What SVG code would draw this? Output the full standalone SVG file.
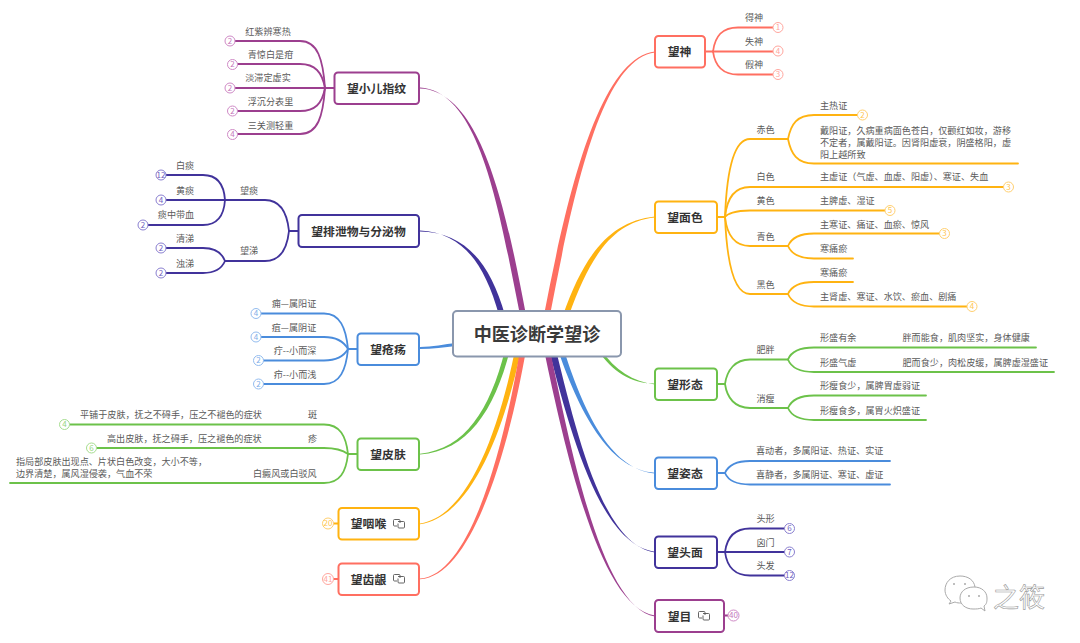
<svg xmlns="http://www.w3.org/2000/svg" width="1080" height="643" viewBox="0 0 1080 643">
<style>
text{font-family:"Noto Sans CJK SC","Noto Sans",sans-serif;dominant-baseline:central;transform:translateY(-.7px)}
.t{font-size:9.1px;fill:#5a5a5a}
.m{text-anchor:middle}
.h{font-size:11.8px;font-weight:700;fill:#333;text-anchor:middle}
.n{font-size:8px;text-anchor:middle}
.box{fill:#fff;stroke-width:2}
.c{fill:none;stroke-width:1.8;stroke-linecap:round}
.ic{fill:none;stroke:#555;stroke-width:.9}
.red{stroke:#ff6f61}.yel{stroke:#ffb311}.grn{stroke:#6cc24a}.blu{stroke:#4a8cdc}.dkb{stroke:#41339b}.pur{stroke:#9c3f8f}
.lr{stroke:#ffa69e;fill:#fff}.ly{stroke:#ffd070;fill:#fff}.lg{stroke:#a6dd90;fill:#fff}.lb{stroke:#93bcef;fill:#fff}.ld{stroke:#8a7fd0;fill:#fff}.lp{stroke:#cf8ac6;fill:#fff}
.nr{fill:#ffa69e}.ny{fill:#ffc650}.ng{fill:#96d47c}.nb{fill:#7eaee8}.nd{fill:#6f62c0}.np{fill:#c577bb}
</style>
<defs>
<g id="icon"><path class="ic" d="M4 7H1.500Q.5 7 .5 6V1.500Q.5.5 1.500.5H6Q7 .5 7 1.500V4"/><path class="ic" d="M5 2.500H10.500Q11.500 2.500 11.500 3.500V8Q11.500 9 10.500 9H6Q5 9 5 8V4.500"/></g>
</defs>

<g id="connectors">
<path fill="#41339b" d="M420 230.500C462 233 484 262 499 315L505 315C490 262 464 232 420 231.500Z"/>
<path fill="#9c3f8f" d="M420 87.500C480 91 499 210 520 315L526 315C506 210 482 91 420 88.500Z"/>
<path fill="#4a8cdc" d="M420 347C432 347 445 344 456 343L456 346C445 347 432 349 420 349Z"/>
<path fill="#6cc24a" d="M420 453.700C465 449 490 410 505 350L510 350C494 412 467 451 420 454.500Z"/>
<path fill="#ffb311" d="M420 523.500C470 516 500 425 515 350L521 350C505 427 472 517 420 524.300Z"/>
<path fill="#ff6f61" d="M420 578.500C472 575 505 440 520 350L526 350C510 442 474 576 420 579.300Z"/>
<path fill="#ff6f61" d="M655 51.500C600 58 568 190 544 315L550 315C574 190 602 59 655 52.500Z"/>
<path fill="#ffb311" d="M655 216.500C610 221 584 255 563 315L569 315C590 257 612 222 655 217.500Z"/>
<path fill="#6cc24a" d="M655 383.500C632 384 612 372 598 350L601 350C615 370 633 382 655 384.500Z"/>
<path fill="#4a8cdc" d="M655 472.700C612 470 582 420 558 350L564 350C586 420 614 470 655 473.500Z"/>
<path fill="#41339b" d="M655 551.700C602 545 572 440 549 350L556 350C578 440 604 545 655 552.500Z"/>
<path fill="#9c3f8f" d="M655 615.500C600 608 565 450 544 350L550 350C571 450 602 608 655 616.500Z"/>
<g class="c pur">
<path d="M334 88H325"/>
<path d="M325 88C323 60 318 41 300 41H235"/>
<path d="M325 88C322 72 315 64 300 64H237"/>
<path d="M325 88H235"/>
<path d="M325 88C322 104 315 111 300 111H237"/>
<path d="M325 88C323 116 318 134 300 134H237"/>
</g>
<g class="c dkb">
<path d="M298 231H289"/>
<path d="M289 231C287 212 280 200 265 200H166"/>
<path d="M289 231C287 250 280 261 265 261H225"/>
<path d="M225 200C224 185 218 175 203 175H166"/>
<path d="M225 200C224 215 218 225 203 225H148"/>
<path d="M225 261C222 253 215 248 203 248H166"/>
<path d="M225 261C222 268 215 273 203 273H166"/>
</g>
<g class="c blu">
<path d="M357 349H348"/>
<path d="M348 349C346 328 340 313.500 324 313.500H261"/>
<path d="M348 349C344 342 336 337 324 337H261"/>
<path d="M348 349C344 356 336 360.500 324 360.500H263"/>
<path d="M348 349C346 370 340 384 324 384H263"/>
</g>
<g class="c grn">
<path d="M357 454H348"/>
<path d="M348 454C346 436 340 424.500 324 424.500H70"/>
<path d="M348 454C344 451 336 448 324 448H97"/>
<path d="M348 454C346 472 340 483 324 483H10"/>
</g>
<path class="c yel" d="M338 523.500H333"/>
<path class="c red" d="M338 579H333"/>
<g class="c red">
<path d="M705 51.500H713"/>
<path d="M713 51.500C715 36 722 27.500 738 27.500H773"/>
<path d="M713 51.500H773"/>
<path d="M713 51.500C715 66 722 74.500 738 74.500H773"/>
</g>
<g class="c yel">
<path d="M717 217H725"/>
<path d="M725 217C727 165 735 139 750 139H788"/>
<path d="M725 217C727 197 735 187 750 187H1003"/>
<path d="M725 217C727 214 735 210.500 750 210.500H885"/>
<path d="M725 217C727 235 735 246 750 246H788"/>
<path d="M725 217C727 265 735 294 750 294H788"/>
<path d="M788 139C791 124 797 115 814 115H857"/>
<path d="M788 139C791 154 797 163.500 814 163.500H1018"/>
<path d="M788 246C791 239 799 233.500 814 233.500H939"/>
<path d="M788 246C791 253 799 258.500 814 258.500H853"/>
<path d="M788 294C791 287 799 282 814 282H853"/>
<path d="M788 294C791 301 799 306.500 814 306.500H967"/>
</g>
<g class="c grn">
<path d="M717 384H725"/>
<path d="M725 384C727 370 735 359.500 750 359.500H788"/>
<path d="M725 384C727 398 735 408 750 408H788"/>
<path d="M788 359.500C791 352 799 347.500 814 347.500H1036"/>
<path d="M788 359.500C791 367 799 372 814 372H1054"/>
<path d="M788 408C791 401 799 395.500 814 395.500H926"/>
<path d="M788 408C791 415 799 420 814 420H926"/>
</g>
<g class="c blu">
<path d="M717 473H725"/>
<path d="M725 473C728 466 735 461 750 461H890"/>
<path d="M725 473C728 480 735 484.500 750 484.500H890"/>
</g>
<g class="c dkb">
<path d="M717 552H725"/>
<path d="M725 552C727 537 735 528.500 750 528.500H784"/>
<path d="M725 552H784"/>
<path d="M725 552C727 567 735 575.500 750 575.500H784"/>
</g>
<path class="c pur" d="M724 615.500H729"/>
</g>

<g id="root"><rect x="453" y="311" width="168" height="45.500" rx="4" fill="#fff" stroke="#8a97ad" stroke-width="2"/><text x="537" y="333.500" text-anchor="middle" font-size="18.100" font-weight="700" fill="#3a3a3a">中医诊断学望诊</text></g>

<g id="n-xiaoer"><rect class="box pur" x="334.500" y="72.500" width="84.500" height="31.500" rx="3.500"/><text class="h" x="376.500" y="88">望小儿指纹</text></g>
<g id="n-paixie"><rect class="box dkb" x="298.500" y="215" width="120.500" height="32" rx="3.500"/><text class="h" x="358.500" y="231">望排泄物与分泌物</text></g>
<g id="n-chuang"><rect class="box blu" x="357.500" y="333.500" width="61.500" height="31.500" rx="3.500"/><text class="h" x="388" y="349">望疮疡</text></g>
<g id="n-pifu"><rect class="box grn" x="357.500" y="438.500" width="61.500" height="31.500" rx="3.500"/><text class="h" x="388" y="454">望皮肤</text></g>
<g id="n-yanhou"><rect class="box yel" x="338.500" y="508" width="80.500" height="31.500" rx="3.500"/><text class="h" x="368.500" y="523.500">望咽喉</text><use href="#icon" x="393" y="519"/></g>
<g id="n-chiyin"><rect class="box red" x="338.500" y="563.500" width="80.500" height="31.500" rx="3.500"/><text class="h" x="368.500" y="579">望齿龈</text><use href="#icon" x="393" y="574"/></g>
<g id="n-shen"><rect class="box red" x="655" y="36" width="50" height="31.500" rx="3.500"/><text class="h" x="679.500" y="51.500">望神</text></g>
<g id="n-mianse"><rect class="box yel" x="655" y="201.500" width="62" height="31.500" rx="3.500"/><text class="h" x="685" y="217">望面色</text></g>
<g id="n-xingtai"><rect class="box grn" x="655" y="368.500" width="62" height="31.500" rx="3.500"/><text class="h" x="685" y="384">望形态</text></g>
<g id="n-zitai"><rect class="box blu" x="655" y="457.500" width="62" height="31.500" rx="3.500"/><text class="h" x="685" y="473">望姿态</text></g>
<g id="n-toumian"><rect class="box dkb" x="655" y="536.500" width="62" height="31.500" rx="3.500"/><text class="h" x="685" y="552">望头面</text></g>
<g id="n-mu"><rect class="box pur" x="655" y="600" width="69" height="32" rx="3.500"/><text class="h" x="679.500" y="616">望目</text><use href="#icon" x="698" y="611"/></g>

<g id="left-leaves">
<g id="l1"><text class="t m" x="268" y="31.500">红紫辨寒热</text><circle class="lp" cx="230" cy="41" r="5"/><text class="n np" x="230" y="41">2</text></g>
<g id="l2"><text class="t m" x="270.500" y="55">青惊白是疳</text><circle class="lp" cx="232.500" cy="64.500" r="5"/><text class="n np" x="232.500" y="64.500">2</text></g>
<g id="l3"><text class="t m" x="268" y="78">淡滞定虚实</text><circle class="lp" cx="230" cy="88" r="5"/><text class="n np" x="230" y="88">2</text></g>
<g id="l4"><text class="t m" x="270.500" y="102">浮沉分表里</text><circle class="lp" cx="232.500" cy="111" r="5"/><text class="n np" x="232.500" y="111">2</text></g>
<g id="l5"><text class="t m" x="270.500" y="125.500">三关测轻重</text><circle class="lp" cx="232.500" cy="134.500" r="5"/><text class="n np" x="232.500" y="134.500">4</text></g>
<g id="l6"><text class="t m" x="249" y="190.500">望痰</text></g>
<g id="l7"><text class="t m" x="249" y="251">望涕</text></g>
<g id="l8"><text class="t m" x="185" y="166">白痰</text><circle class="ld" cx="161" cy="175" r="5"/><text class="n nd" x="161" y="175">12</text></g>
<g id="l9"><text class="t m" x="185" y="190.500">黄痰</text><circle class="ld" cx="161" cy="200" r="5"/><text class="n nd" x="161" y="200">4</text></g>
<g id="l10"><text class="t m" x="176" y="215">痰中带血</text><circle class="ld" cx="143" cy="225" r="5"/><text class="n nd" x="143" y="225">2</text></g>
<g id="l11"><text class="t m" x="185" y="239">清涕</text><circle class="ld" cx="161" cy="248" r="5"/><text class="n nd" x="161" y="248">2</text></g>
<g id="l12"><text class="t m" x="185" y="264">浊涕</text><circle class="ld" cx="161" cy="273" r="5"/><text class="n nd" x="161" y="273">2</text></g>
<g id="l13"><text class="t m" x="294" y="304">痈—属阳证</text><circle class="lb" cx="256" cy="313.500" r="5"/><text class="n nb" x="256" y="313.500">4</text></g>
<g id="l14"><text class="t m" x="294" y="328">疽—属阴证</text><circle class="lb" cx="256" cy="337" r="5"/><text class="n nb" x="256" y="337">4</text></g>
<g id="l15"><text class="t m" x="295" y="351">疔--小而深</text><circle class="lb" cx="258.500" cy="360.500" r="5"/><text class="n nb" x="258.500" y="360.500">2</text></g>
<g id="l16"><text class="t m" x="295" y="375">疖--小而浅</text><circle class="lb" cx="258.500" cy="384" r="5"/><text class="n nb" x="258.500" y="384">2</text></g>
<g id="l17"><text class="t m" x="312.500" y="415">斑</text><text class="t" x="80" y="415">平铺于皮肤&#xFF0C;抚之不碍手&#xFF0C;压之不褪色的症状</text><circle class="lg" cx="64.500" cy="424.500" r="5"/><text class="n ng" x="64.500" y="424.500">4</text></g>
<g id="l18"><text class="t m" x="312.500" y="439">疹</text><text class="t" x="107" y="439">高出皮肤&#xFF0C;抚之碍手&#xFF0C;压之褪色的症状</text><circle class="lg" cx="91.500" cy="448" r="5"/><text class="n ng" x="91.500" y="448">6</text></g>
<g id="l19"><text class="t" x="253" y="474">白癜风或白驳风</text><text class="t" x="16" y="462">指局部皮肤出现点、片状白色改变&#xFF0C;大小不等&#xFF0C;</text><text class="t" x="16" y="474">边界清楚&#xFF0C;属风湿侵袭&#xFF0C;气血不荣</text></g>
<g id="l20"><circle class="ly" cx="328" cy="523.500" r="5.500"/><text class="n ny" x="328" y="523.500">20</text></g>
<g id="l21"><circle class="lr" cx="328" cy="579" r="5.500"/><text class="n nr" x="328" y="579">41</text></g>
</g>

<g id="right-leaves">
<g id="r1"><text class="t m" x="754" y="18">得神</text><circle class="lr" cx="778" cy="27.500" r="5"/><text class="n nr" x="778" y="27.500">1</text></g>
<g id="r2"><text class="t m" x="754" y="41.500">失神</text><circle class="lr" cx="778" cy="51" r="5"/><text class="n nr" x="778" y="51">4</text></g>
<g id="r3"><text class="t m" x="754" y="65">假神</text><circle class="lr" cx="778" cy="74.500" r="5"/><text class="n nr" x="778" y="74.500">3</text></g>
<g id="r4"><text class="t m" x="765.500" y="129.500">赤色</text></g>
<g id="r5"><text class="t" x="820" y="105.500">主热证</text><circle class="ly" cx="862.500" cy="115" r="5"/><text class="n ny" x="862.500" y="115">2</text></g>
<g id="r6"><text class="t" x="820" y="130.500">戴阳证&#xFF0C;久病重病面色苍白&#xFF0C;仅颧红如妆&#xFF0C;游移</text><text class="t" x="820" y="142.500">不定者&#xFF0C;属戴阳证。因肾阳虚衰&#xFF0C;阴盛格阳&#xFF0C;虚</text><text class="t" x="820" y="154.500">阳上越所致</text></g>
<g id="r7"><text class="t m" x="765.500" y="177">白色</text></g>
<g id="r8"><text class="t" x="820" y="177">主虚证&#xFF08;气虚、血虚、阳虚&#xFF09;、寒证、失血</text><circle class="ly" cx="1008.500" cy="187" r="5"/><text class="n ny" x="1008.500" y="187">3</text></g>
<g id="r9"><text class="t m" x="765.500" y="200.500">黄色</text></g>
<g id="r10"><text class="t" x="820" y="201">主脾虚、湿证</text><circle class="ly" cx="890" cy="210.500" r="5"/><text class="n ny" x="890" y="210.500">5</text></g>
<g id="r11"><text class="t m" x="765.500" y="236.500">青色</text></g>
<g id="r12"><text class="t" x="820" y="224.500">主寒证、痛证、血瘀、惊风</text><circle class="ly" cx="944.500" cy="233.500" r="5"/><text class="n ny" x="944.500" y="233.500">3</text></g>
<g id="r13"><text class="t" x="820" y="249">寒痛瘀</text></g>
<g id="r14"><text class="t m" x="765.500" y="285">黑色</text></g>
<g id="r15"><text class="t" x="820" y="272.500">寒痛瘀</text></g>
<g id="r16"><text class="t" x="820" y="297">主肾虚、寒证、水饮、瘀血、剧痛</text><circle class="ly" cx="972" cy="306.500" r="5"/><text class="n ny" x="972" y="306.500">4</text></g>
<g id="r17"><text class="t m" x="765.500" y="350">肥胖</text></g>
<g id="r18"><text class="t" x="820" y="338">形盛有余</text><text class="t" x="902.500" y="338">胖而能食&#xFF0C;肌肉坚实&#xFF0C;身体健康</text></g>
<g id="r19"><text class="t" x="820" y="362.500">形盛气虚</text><text class="t" x="902.500" y="362.500">肥而食少&#xFF0C;肉松皮缓&#xFF0C;属脾虚湿盛证</text></g>
<g id="r20"><text class="t m" x="765.500" y="398.500">消瘦</text></g>
<g id="r21"><text class="t" x="820" y="386">形瘦食少&#xFF0C;属脾胃虚弱证</text></g>
<g id="r22"><text class="t" x="820" y="411">形瘦食多&#xFF0C;属胃火炽盛证</text></g>
<g id="r23"><text class="t" x="756" y="451">喜动者&#xFF0C;多属阳证、热证、实证</text></g>
<g id="r24"><text class="t" x="756" y="475">喜静者&#xFF0C;多属阴证、寒证、虚证</text></g>
<g id="r25"><text class="t m" x="765.500" y="519">头形</text><circle class="ld" cx="789.500" cy="528.500" r="5"/><text class="n nd" x="789.500" y="528.500">6</text></g>
<g id="r26"><text class="t m" x="765.500" y="542.500">囟门</text><circle class="ld" cx="789.500" cy="552" r="5"/><text class="n nd" x="789.500" y="552">7</text></g>
<g id="r27"><text class="t m" x="765.500" y="566">头发</text><circle class="ld" cx="789.500" cy="575.500" r="5"/><text class="n nd" x="789.500" y="575.500">12</text></g>
<g id="r28"><circle class="lp" cx="733.500" cy="615.500" r="5.500"/><text class="n np" x="733.500" y="615.500">40</text></g>
</g>

<g id="watermark">
<path d="M960 576C950 576 945 583 945 590C945 595 948 599 951 601L949 604L955 602C957 603 959 603 961 603" fill="#fff" stroke="#aaa" stroke-width="1"/>
<path d="M960 576C968 576 974 580 975 587" fill="none" stroke="#aaa" stroke-width="1"/>
<circle cx="954" cy="584" r="1" fill="#aaa"/><circle cx="965" cy="584" r="1" fill="#aaa"/>
<path d="M974 587C965 587 960 592 960 598C960 605 966 609 973 609C976 609 979 609 981 608L985 611L984 606C987 604 987 601 987 598C987 592 982 587 974 587Z" fill="#fff" stroke="#aaa" stroke-width="1"/>
<circle cx="969" cy="596" r="1" fill="#aaa"/><circle cx="979" cy="596" r="1" fill="#aaa"/>
<text x="993" y="596" font-size="26" fill="#fff" stroke="#9a9a9a" stroke-width=".6">之筱</text>
</g>
</svg>
